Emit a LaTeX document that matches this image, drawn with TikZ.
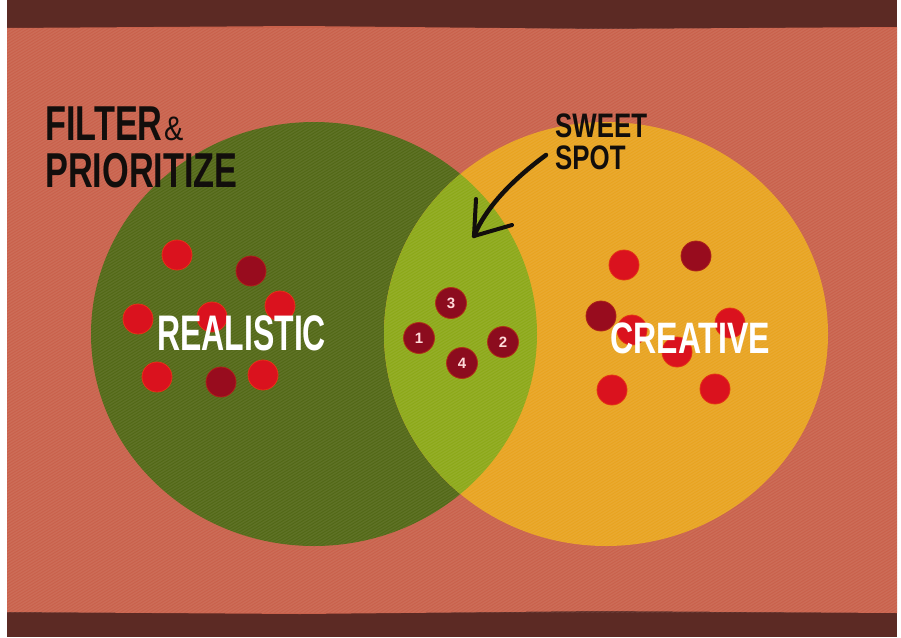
\documentclass[tikz,border=0pt]{standalone}
\usepackage{fontspec}
\setmainfont{Liberation Sans}
\definecolor{frame}{RGB}{92,42,36}
\definecolor{paper}{RGB}{201,97,75}
\definecolor{realgreen}{RGB}{82,104,22}
\definecolor{creayellow}{RGB}{232,163,32}
\definecolor{lensgreen}{RGB}{140,168,24}
\definecolor{brightred}{RGB}{218,18,30}
\definecolor{darkred}{RGB}{152,12,30}
\definecolor{lensred}{RGB}{140,12,30}
\definecolor{inkblack}{RGB}{18,14,12}
\begin{document}
\begin{tikzpicture}[x=1pt,y=-1pt,
  heavy/.style={inner sep=0pt, text=inkblack, font=\fontsize{49}{49}\selectfont\bfseries},
  heavysmall/.style={inner sep=0pt, text=inkblack, align=left, font=\fontsize{34}{32}\selectfont\bfseries},
  amp/.style={inner sep=0pt, text=inkblack, font=\fontsize{34}{34}\selectfont},
  whitelabel/.style={inner sep=0pt, text=white, font=\fontsize{50}{50}\selectfont\bfseries},
  rdot/.style={circle, fill=brightred, minimum size=30pt, inner sep=0pt, draw=brightred!70!orange, line width=0.8pt},
  ddot/.style={circle, fill=darkred, minimum size=30pt, inner sep=0pt, draw=darkred!80!orange, line width=0.8pt},
  numdot/.style={circle, fill=lensred, minimum size=31pt, inner sep=0pt, draw=lensred!70!orange, line width=0.8pt,
     text=pink!60!white, font=\fontsize{15}{15}\selectfont\bfseries},
  brush/.style={draw=inkblack, line width=4.5pt, line cap=round, line join=round}
]
\useasboundingbox (0,0) rectangle (901,637);
\fill[white] (0,0) rectangle (901,637);
\fill[frame] (7,0) rectangle (897,637);
\fill[paper] (7,28) -- (300,26) -- (600,29) -- (897,27) -- (897,613) -- (600,611) -- (300,614) -- (7,612) -- cycle;

% circles
\fill[realgreen] (314,334) ellipse [x radius=223, y radius=212];
\fill[creayellow] (606,334) ellipse [x radius=222, y radius=212];
\begin{scope}
  \clip (314,334) ellipse [x radius=223, y radius=212];
  \fill[lensgreen] (606,334) ellipse [x radius=222, y radius=212];
\end{scope}

% texture stripes
\begin{scope}
  \clip (7,28) rectangle (897,612);
  \foreach \i in {-1000,-995,...,900} {
    \draw[white, opacity=0.07, line width=1.4pt] (\i,620) -- (\i+1000,20);
  }
\end{scope}

% dots realistic
\node[rdot] (ra) at (177,255) {};
\node[ddot] (rb) at (251,271) {};
\node[rdot] (rc) at (280,306) {};
\node[rdot] (rd) at (138,319) {};
\node[rdot] (re) at (212,317) {};
\node[rdot] (rf) at (157,377) {};
\node[ddot] (rg) at (221,382) {};
\node[rdot] (rh) at (263,375) {};

% dots creative
\node[rdot] (ca) at (624,265) {};
\node[ddot] (cb) at (696,256) {};
\node[ddot] (cc) at (601,316) {};
\node[rdot] (cd) at (730,323) {};
\node[rdot] (ce) at (677,352) {};
\node[rdot] (cf) at (632,330) {};
\node[rdot] (cg) at (612,390) {};
\node[rdot] (ch) at (715,389) {};

% numbered dots
\node[numdot] (n3) at (451,303) {3};
\node[numdot] (n1) at (419,338) {1};
\node[numdot] (n2) at (503,342) {2};
\node[numdot] (n4) at (462,363) {4};

% labels
\node[whitelabel, anchor=base west] (realistic) at (157,350) {\scalebox{0.64}[1]{REALISTIC}};
\node[whitelabel, anchor=base west, font=\fontsize{44}{44}\selectfont\bfseries] (creative) at (610,353) {\scalebox{0.73}[1]{CREATIVE}};

% title
\node[heavy, anchor=base west] (filter) at (45,140) {\scalebox{0.7}[1]{FILTER}};
\node[amp, anchor=base west] (ampersand) at ([xshift=1pt]filter.base east) {\scalebox{0.85}[1]{\&}};
\node[heavy, anchor=base west] (prioritize) at (45,187) {\scalebox{0.7}[1]{PRIORITIZE}};

% sweet spot
\node[heavysmall, anchor=north west] (sweetspot) at (555,114) {\scalebox{0.76}[1]{SWEET}\\\scalebox{0.76}[1]{SPOT}};

% arrow
\coordinate (arrowstart) at (546,155);
\coordinate (arrowtip) at (474,236);
\coordinate (barbup) at (476,199);
\coordinate (barbright) at (512,225);
\draw[brush] (arrowstart) .. controls (515,178) and (487,205) .. (arrowtip);
\draw[brush, line width=4pt] (barbup) -- (arrowtip) -- (barbright);
\end{tikzpicture}
\end{document}
